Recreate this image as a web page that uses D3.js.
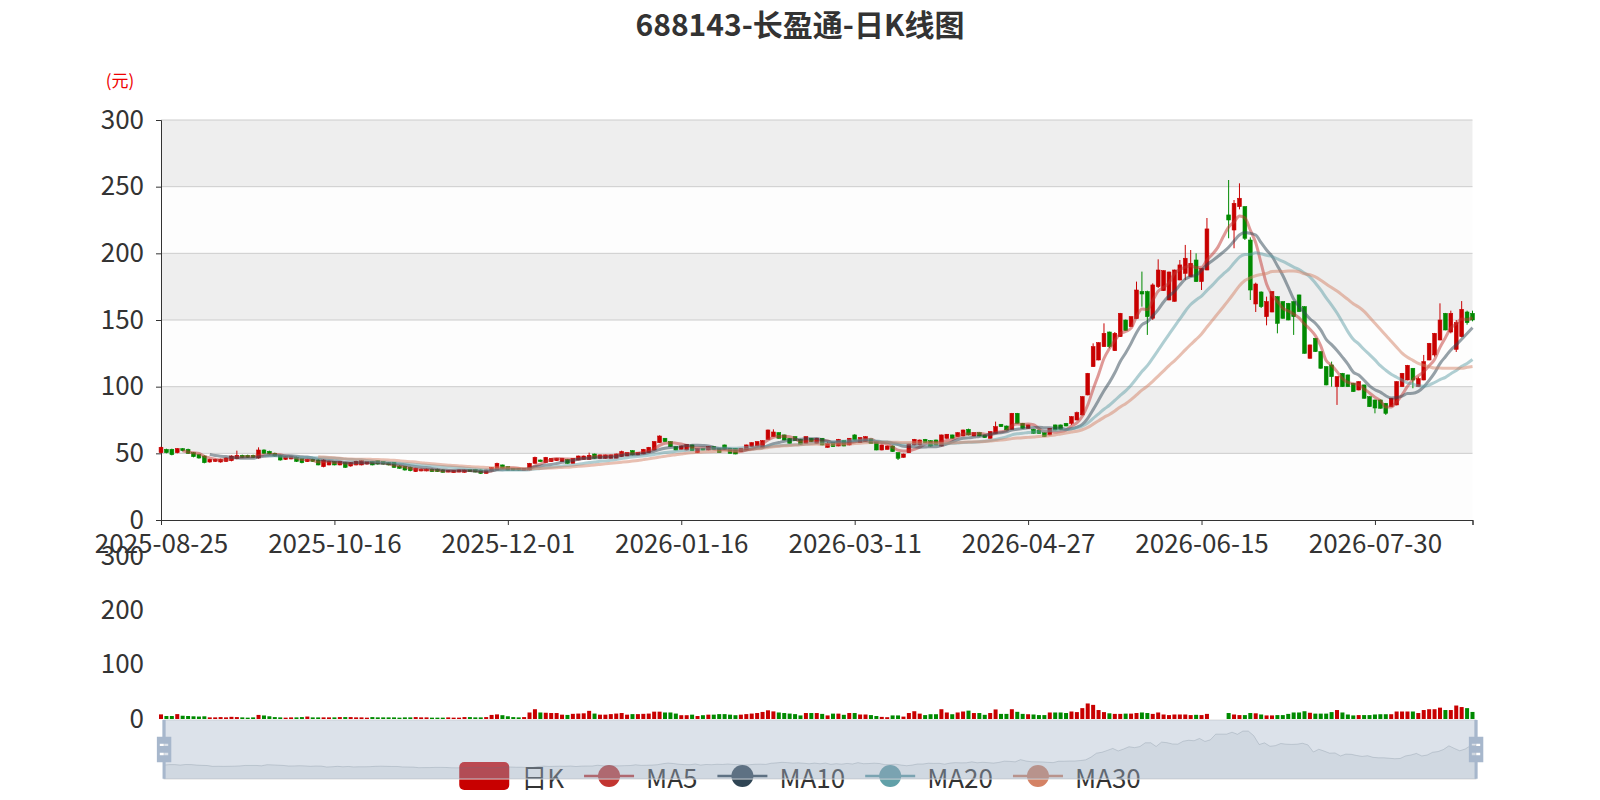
<!DOCTYPE html>
<html>
<head>
<meta charset="utf-8">
<script src="https://cdn.jsdelivr.net/npm/d3@7"></script>
<style>
  body { margin: 0; background: #fff; }
  svg { display: block; }
  text { font-family: "Noto Sans CJK SC", "Noto Sans", sans-serif; }
</style>
</head>
<body>
<svg id="chart" width="1600" height="800"></svg>
<script>
// chart data
const titleText = "688143-长盈通-日K线图";
const unitName = "(元)";
const firstDay = "2025-08-25";
const dayCount = 243;
const closedDays = [
  "2025-10-01", "2025-10-02", "2025-10-03", "2025-10-06", "2025-10-07", "2025-10-08",
  "2026-01-01", "2026-01-02",
  "2026-02-16", "2026-02-17", "2026-02-18", "2026-02-19", "2026-02-20", "2026-02-23",
  "2026-04-06", "2026-05-01", "2026-05-04", "2026-05-05", "2026-06-19"
];
const labelEvery = 32;
const priceTicks = [0, 50, 100, 150, 200, 250, 300];
const volumeTicks = [0, 100, 200, 300];
const maPeriods = [5, 10, 20, 30];
const seriesNames = ["日K", "MA5", "MA10", "MA20", "MA30"];

// [open, close, low, high]
const kline = [
  [50.5,54.5,50,55],[53,50.5,50,53.5],[53,49,48.5,53.5],[50.5,53.5,50,54],[53.5,52,51.5,54],[53,50,49.5,53.5],[50.5,47.5,47,51],[49,46.5,46,49.5],[48,43,42.5,48.5],[43.5,45.5,43,46],
  [44,45.5,43.5,46],[43.5,45.5,43,46],[44,46.5,43.5,47],[44.5,48,44,48.5],[46,48.5,45.5,52],[48.5,47,46.5,49],[48.5,47,46.5,49],[48.5,47,46.5,49],[46.5,52.5,46,54.5],[52.5,50,49.5,53],
  [51.5,49.5,49,52],[50,48,47.5,50.5],[48.5,45,44.5,49],[45.5,47.5,45,48],[45.8,47.5,45.5,48],[47,44,43.5,47.5],[46,43,42.5,46.5],[43.8,45.5,43.5,46],[45.5,44,43.5,46],[45,41.3,41,45.5],
  [40,45,39.5,45.5],[41.3,43.8,41,44.5],[43.8,41.3,41,44],[41.3,43.8,41,44],[43,39.5,39,43.5],[40.5,43,40,43.5],[41.3,44,41,44.5],[41.3,44.5,41,45],[42,43.8,41.5,44],[43.8,41.3,41,44],
  [44.5,42,41.5,45],[43.8,42,41.5,44],[43,41.3,41,43.5],[43,39.5,39,43.5],[40.5,38.8,38.5,41],[40,37.5,37,40.5],[39.5,37,36.5,40],[36.3,38.8,36,39],[36.8,38,36.5,38.5],[36.8,38,36.5,38.5],
  [38,36.3,36,38.5],[38,36.3,36,38.5],[37.5,35.8,35.5,38],[36,37.3,35.8,37.5],[35.5,37.3,35.3,37.5],[36,37.5,35.8,37.8],[35.8,37.5,35.5,37.8],[38,36.3,36,38.3],[38,36,35.8,38.3],[37.5,35,34.5,37.8],
  [35,37.5,34.8,37.8],[36.8,39.3,36.5,39.5],[37.5,42.5,37.3,43],[41.3,38.8,38.5,41.5],[40,37.5,37.3,40.3],[38.8,37.5,37.3,39],[38.8,37.5,37.3,39],[37.5,38.8,37.3,39],[37.5,42.5,37.3,42.8],[42.5,47,42.3,47.5],
  [45,43.8,43.5,45.3],[43,47,42.8,47.3],[43.8,46.3,43.5,46.5],[44.5,46.3,44.3,46.5],[43.8,46.3,43.5,46.5],[45.5,42.5,42.3,45.8],[42.5,46.3,42.3,46.5],[45,48,44.8,48.3],[45.5,48,45.3,48.3],[45.5,48.5,45.3,50.5],
  [49.5,46.3,46,49.8],[46.3,48.8,46,49],[46.3,48.8,46,49],[46.3,48.8,46,49],[46.3,49.5,46,49.8],[47.5,51.3,47.3,52],[48,50.5,47.8,50.8],[52,48.8,48.5,52.3],[48.8,50.5,48.5,50.8],[49.5,53,49.3,53.3],
  [50.5,54.5,50.3,54.8],[52.5,58.8,52.3,59],[58,63,57.8,63.5],[61.3,58.8,58.5,61.5],[58.8,55,54.8,59],[55,52.5,52.3,55.3],[53,55.5,52.8,55.8],[52.5,56.8,52.3,57],[56.3,52,51.8,56.5],[50.5,53.8,50.3,54],
  [53.8,52.5,52.3,54],[52.5,55,52.3,55.3],[55,53,52.8,55.3],[53.8,50.5,50.3,54],[56.3,53,52.8,56.5],[53.8,50,49.8,54],[53.8,49.5,49.3,54],[51.3,53.8,51,54],[52.5,56.3,52.3,56.5],[55,58,54.8,58.3],
  [55.5,58.8,55.3,59],[54.3,59.5,54,59.8],[60.5,67.5,60.3,67.8],[62.5,66,62.3,68],[65.5,61.3,61,65.8],[63.8,60,59.8,64],[61.3,57.5,57.3,61.5],[62.5,59.5,59.3,62.8],[60.5,56.8,56.5,60.8],[57.5,62.5,57.3,62.8],
  [61.3,58.8,58.5,61.5],[57.5,61.3,57.3,61.5],[61.3,56.3,56,61.5],[54.5,57.5,54.3,58.8],[58,55,54.8,58.3],[55.5,60.5,55.3,60.8],[59.5,55.5,55.3,59.8],[56.3,61.3,56,61.5],[63.8,60,59.8,64.3],[58,61.8,57.8,62],
  [58.8,62.5,58.5,62.8],[60.8,57.5,57.3,61],[58.8,52.5,52.3,59],[52.5,56.3,52.3,56.5],[53,55.5,52.8,55.8],[55.5,51.3,51,55.8],[50.5,46.3,45,50.8],[47,49.5,46.8,49.8],[50.5,57,50.3,57.3],[56.3,60.5,56,60.8],
  [56.3,60,56,60.3],[60.5,58,57.8,60.8],[59.5,55.5,55.3,59.8],[60,56.3,56,60.3],[55.5,63.8,55.3,64],[61.3,64.3,61,64.5],[63.8,61.3,61,64],[62.5,65.5,62.3,65.8],[63,67.5,62.8,67.8],[68,63.8,63.5,68.5],
  [63,65.5,62.8,65.8],[65.5,63,62.8,65.8],[63.8,61.8,61.5,64],[61.3,66.3,61,66.5],[65,70,64.8,73.8],[71.8,70,69.8,72],[70.5,67.5,67.3,70.8],[68,80,67.8,80.3],[80,72.5,72.3,80.3],[72.5,68.8,68.5,72.8],
  [68.8,71.3,68.5,71.5],[68,65,64.8,68.3],[67.5,65,64.8,67.8],[65.5,62.5,62.3,65.8],[63.8,68.8,63.5,69],[71.3,67.5,67.3,71.5],[71.3,68,67.8,71.5],[72.5,70.5,70.3,72.8],[72.5,77.5,71.3,77.8],[75,80.5,74.8,81.3],
  [78.8,92.5,78.5,92.8],[93.8,110,93.5,110.3],[115,130,114.8,132.5],[120,133,119.8,133.3],[130,140,129.8,147.5],[141,130,128.8,141.3],[127,140,126.8,141],[137.5,155,137.3,155.3],[150,142,141.8,150.3],[145,152.5,144.8,152.8],
  [151,172.5,150.8,178.8],[171.3,169.5,160,186.3],[171.3,152.5,138.8,172],[151.3,176.3,150,177.5],[175,187.5,174,195.5],[172,187,171.8,187.3],[165,186,164.8,186.3],[164,187.5,163.8,187.8],[180,191.3,179.8,195],[185,196.3,180,206.3],
  [182.5,192.5,182.3,202.5],[195,178.8,178.5,200],[178.8,188.8,172.5,189],[187.5,218.3,187.3,226.5],[218.3,218.3,218.3,218.3],[218.3,218.3,218.3,218.3],[218.3,218.3,218.3,218.3],[228.8,225,211.3,255],[217.5,237.5,203.8,240],[235,241.3,233,252.5],
  [235,211.3,210,235.3],[210,172.5,165,212],[162,177,156,178],[171,160,159,171.5],[152.5,163.8,146,167.5],[156,171.3,155.8,171.5],[167.5,147.5,140,167.8],[163.8,151.3,151,164],[162.5,150,149.8,162.8],[163.8,152.5,138.8,164],
  [168.8,156.3,156,169],[160,125,124.8,160.3],[121.3,131.3,121,131.5],[136.3,126.3,126,136.5],[126.3,113.8,113.5,126.5],[115,101.3,101,115.3],[116.3,107.5,100,118.8],[100,107.5,86.3,107.8],[110,100,99.8,110.3],[108.8,100,99.8,109],
  [102.5,96.3,96,102.8],[97.5,103.8,97.3,104],[101.3,91.3,91,101.5],[92.5,85,84.8,92.8],[90,84,80,90.3],[90,83.8,83.5,90.3],[87.5,80,78.8,87.8],[85,91.3,84.8,91.5],[86.3,103.8,86,104],[100,110,99.8,110.3],
  [105,116,104.8,116.3],[113.8,105,98.8,114],[100,106,99.8,107.5],[105,118.8,104.8,123.8],[120,132.5,119.8,132.8],[123.8,140,122.5,140.3],[135,150,134.8,162.5],[155,142.5,142.3,155.3],[141,155,140,157],[128,148,126,150],
  [137.5,158,137,164.2],[156,148,146.5,157],[155,150,149,157]
];

const volumes = [
  8.5,5.5,5.5,9,6,5.5,5,4.5,5,3,
  3,3.5,3,4,3.5,3,2.5,3,7.5,6.5,
  5,3.5,3,2.5,3,3,3.5,4.5,3,3,
  3,3,3,3.5,3.5,3.5,3,3,2.5,3.5,
  3,3,3,3,2.5,3,3,3.5,3,3,
  2.5,2.5,2.5,3,2.5,2.5,3.5,3.5,3,3,
  3.5,7.5,8.5,7,5,3.5,3,3.5,12,18,
  12,11.5,11,11,8,7.5,9.5,10,10.5,15,
  10,8,8,9,10,11,8,9,9,9.5,
  10,13.5,13.5,12,12,10,7,7,8,5.5,
  7,8,8,9,9,8,7,8,9,10,
  11,13,16,14,12,11,10,9,6.6,11,
  11,11,9.4,6.6,9.9,9.9,7.7,11,11,8.3,
  8.3,7.2,5.5,3.9,3.3,6.6,6.6,4.4,11,14.3,
  9.9,7.2,8.8,8.8,18,12,8.8,12,13.8,15.4,
  11,11,7.7,11,17.6,9.4,9.4,18,13.2,9.4,
  8.8,8.3,7.2,7.2,12,12,12,11,13.8,12.7,
  20,28.6,26,16.5,12.7,10.5,9.4,9.4,9.9,9.9,
  11,12,11,9.4,12,8.3,7.2,8.3,8.3,8.3,
  7.2,7.7,7.2,9.4,0,0,0,11,8.3,7.2,
  7.2,11,10.5,8.3,6.6,6.6,7.2,7.2,9.4,12,
  12,14.3,11.5,9.9,9.9,9.9,12.7,16.5,12,8.3,
  6.6,7.2,7.2,7.2,8.3,8.8,8.8,8.8,13.8,13.8,
  13.8,13.8,11,16.5,18,18,20.9,16.5,16.5,24.8,
  22,20,13
];

// trading calendar: weekdays minus exchange holidays
function tradingDays(start, n, skip) {
  const out = [];
  const d = new Date(start + "T00:00:00Z");
  while (out.length < n) {
    const s = d.toISOString().slice(0, 10);
    const wd = d.getUTCDay();
    if (wd !== 0 && wd !== 6 && !skip.includes(s)) out.push(s);
    d.setUTCDate(d.getUTCDate() + 1);
  }
  return out;
}
const dates = tradingDays(firstDay, dayCount, closedDays);
const closes = kline.map(d => d[1]);

// colours
const upColor = "#c80000", downColor = "#008a00";
const maColors = ["#c23531", "#2f4554", "#61a0a8", "#d48265"];

const svg = d3.select("#chart");

// layout
const gridLeft = 161, gridRight = 1472.5;
const mainTop = 120, mainBottom = 520;
const volTop = 556, volBottom = 719;
const labelSize = "26px";

const x = d3.scalePoint().domain(dates).range([gridLeft, gridRight]);
const y = d3.scaleLinear().domain([0, 300]).range([mainBottom, mainTop]);
const yVol = d3.scaleLinear().domain([0, 300]).range([volBottom, volTop]);

// direction like echarts: flat candles compare to previous close
function sign(i) {
  const [o, c] = kline[i];
  if (c > o) return 1;
  if (c < o) return -1;
  return i > 0 && kline[i - 1][1] <= c ? 1 : -1;
}

// title
svg.append("text")
  .attr("x", 800).attr("y", 23)
  .attr("text-anchor", "middle").attr("dominant-baseline", "central")
  .style("font-size", "30px").style("font-weight", "bold").style("fill", "#333")
  .text(titleText);

// split areas and split lines
const bands = svg.append("g");
d3.pairs(priceTicks).forEach(([a, b], k) => {
  bands.append("rect")
    .attr("x", gridLeft).attr("width", gridRight - gridLeft)
    .attr("y", y(b)).attr("height", y(a) - y(b))
    .attr("fill", k % 2 === 0 ? "rgba(250,250,250,0.3)" : "rgba(200,200,200,0.3)");
});
svg.append("g").selectAll("line")
  .data(priceTicks.slice(1))
  .join("line")
  .attr("x1", gridLeft).attr("x2", gridRight)
  .attr("y1", d => y(d)).attr("y2", d => y(d))
  .attr("stroke", "#ccc").attr("stroke-width", 1);

// axes
const yAxis = svg.append("g")
  .attr("transform", `translate(${gridLeft},0)`)
  .call(d3.axisLeft(y).tickValues(priceTicks).tickSize(5).tickPadding(12));
const xAxis = svg.append("g")
  .attr("transform", `translate(0,${mainBottom})`)
  .call(d3.axisBottom(x).tickValues(dates.filter((d, i) => i % labelEvery === 0 || i === dates.length - 1))
    .tickSize(5).tickPadding(10));
xAxis.selectAll(".tick").filter(d => dates.indexOf(d) % labelEvery !== 0).select("text").remove();
[yAxis, xAxis].forEach(g => {
  g.selectAll("text").style("font-size", labelSize).style("fill", "#333").style("font-family", null);
  g.selectAll("line, path").attr("stroke", "#333");
});

svg.append("text")
  .attr("x", 120).attr("y", 79)
  .attr("text-anchor", "middle").attr("dominant-baseline", "central")
  .style("font-size", "17px").style("fill", "#e00")
  .text(unitName);

// candles
const bodyW = x.step() * 0.7;
const candles = svg.append("g").selectAll("g")
  .data(kline)
  .join("g")
  .attr("fill", (d, i) => sign(i) > 0 ? upColor : downColor)
  .attr("stroke", (d, i) => sign(i) > 0 ? upColor : downColor);
candles.append("line")
  .attr("x1", (d, i) => x(dates[i])).attr("x2", (d, i) => x(dates[i]))
  .attr("y1", d => y(d[3])).attr("y2", d => y(d[2]))
  .attr("stroke-width", 1);
candles.append("rect")
  .attr("x", (d, i) => x(dates[i]) - bodyW / 2)
  .attr("width", bodyW)
  .attr("y", d => y(Math.max(d[0], d[1])))
  .attr("height", d => Math.abs(y(d[0]) - y(d[1])))
  .attr("stroke-width", 0.6);

// moving averages
function movingAverage(n) {
  return closes.map((c, i) => i < n - 1 ? null : d3.mean(closes.slice(i - n + 1, i + 1)));
}
const maLine = d3.line()
  .defined(d => d != null)
  .x((d, i) => x(dates[i]))
  .y(d => y(d))
  .curve(d3.curveMonotoneX);
maPeriods.forEach((n, k) => {
  svg.append("path")
    .datum(movingAverage(n))
    .attr("fill", "none")
    .attr("stroke", maColors[k])
    .attr("stroke-opacity", 0.5)
    .attr("stroke-width", 3)
    .attr("d", maLine);
});

// volume panel
const volAxis = svg.append("g")
  .attr("transform", `translate(${gridLeft},0)`)
  .call(d3.axisLeft(yVol).tickValues(volumeTicks).tickSize(0).tickPadding(17));
volAxis.select(".domain").remove();
volAxis.selectAll("text").style("font-size", labelSize).style("fill", "#333").style("font-family", null);

svg.append("g").selectAll("rect")
  .data(volumes)
  .join("rect")
  .attr("x", (d, i) => x(dates[i]) - 2)
  .attr("width", 4)
  .attr("y", d => yVol(d))
  .attr("height", d => yVol(0) - yVol(d))
  .attr("fill", (d, i) => sign(i) > 0 ? upColor : downColor);

// legend (sits under the slider)
const legend = svg.append("g");
const iconW = 50, iconH = 28, textGap = 12, itemGap = 20, legendY = 776;
let lx = 0;
seriesNames.forEach((name, k) => {
  const item = legend.append("g").attr("transform", `translate(${lx},0)`);
  if (k === 0) {
    item.append("rect")
      .attr("x", 0).attr("y", legendY - iconH / 2)
      .attr("width", iconW).attr("height", iconH).attr("rx", 5)
      .attr("fill", upColor);
  } else {
    item.append("line")
      .attr("x1", 0).attr("x2", iconW).attr("y1", legendY).attr("y2", legendY)
      .attr("stroke", maColors[k - 1]).attr("stroke-width", 2.5);
    item.append("circle")
      .attr("cx", iconW / 2).attr("cy", legendY).attr("r", 11)
      .attr("fill", maColors[k - 1]);
  }
  const t = item.append("text")
    .attr("x", iconW + textGap).attr("y", legendY)
    .attr("dominant-baseline", "central")
    .style("font-size", labelSize).style("fill", "#333")
    .text(name);
  lx += iconW + textGap + t.node().getComputedTextLength() + itemGap;
});
const legendWidth = lx - itemGap;
legend.attr("transform", `translate(${800 - legendWidth / 2},0)`);

// data zoom slider
const sl = { left: 164, right: 1476, top: 720, bottom: 779 };
const opens = kline.map(d => d[0]);
const [oMin, oMax] = d3.extent(opens);
const pad = (oMax - oMin) * 0.3;
const sx = d3.scaleLinear().domain([0, dates.length - 1]).range([sl.left, sl.right]);
const sy = d3.scaleLinear().domain([oMin - pad, oMax + pad]).range([sl.bottom, sl.top]);

svg.append("rect")
  .attr("x", sl.left).attr("y", sl.top)
  .attr("width", sl.right - sl.left).attr("height", sl.bottom - sl.top)
  .attr("fill", "none").attr("stroke", "#ddd");
svg.append("path")
  .datum(opens)
  .attr("fill", "rgba(47,69,84,0.09)")
  .attr("d", d3.area().x((d, i) => sx(i)).y0(sl.bottom).y1(d => sy(d)));
svg.append("path")
  .datum(opens)
  .attr("fill", "none")
  .attr("stroke", "#2f4554").attr("stroke-opacity", 0.3).attr("stroke-width", 0.8)
  .attr("d", d3.line().x((d, i) => sx(i)).y(d => sy(d)));
svg.append("rect")
  .attr("x", sl.left).attr("y", sl.top)
  .attr("width", sl.right - sl.left).attr("height", sl.bottom - sl.top)
  .attr("fill", "rgba(167,183,203,0.4)");

const handlePath = "M8.2,13.6V3.9H6.3v9.7H3.1v14.9h3.3v9.7h1.8v-9.7h3.3V13.6H8.2z M9.7,24.4H4.8v-1.4h4.9V24.4z M9.7,19.1H4.8v-1.4h4.9V19.1z";
const hs = (sl.bottom - sl.top) / 34.4;
[sl.left, sl.right].forEach(hx => {
  svg.append("path")
    .attr("d", handlePath)
    .attr("fill-rule", "evenodd")
    .attr("fill", "#a7b7cc")
    .attr("transform", `translate(${hx},${(sl.top + sl.bottom) / 2}) scale(${hs}) translate(-7.25,-21.1)`);
});
</script>
</body>
</html>
